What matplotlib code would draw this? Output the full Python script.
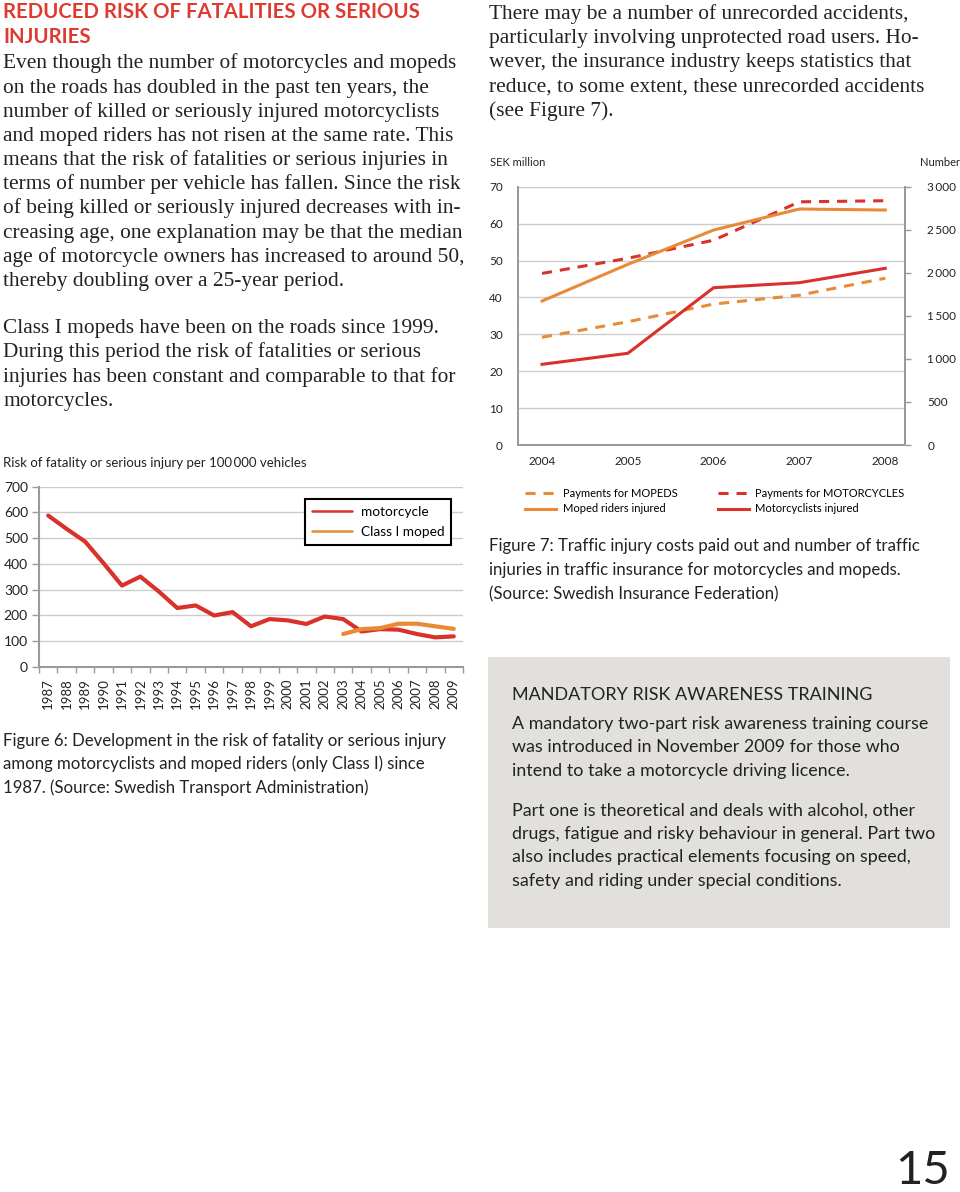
import matplotlib
matplotlib.use("Agg")
import matplotlib.pyplot as plt

W, H = 960, 1192
RED = "#d8322b"
ORANGE = "#e88a36"
TITLE_RED = "#e0392f"
GRID = "#cccccc"
SPINE = "#9a9a9a"
TXT = "#222222"
SANS = "Lato"
SERIF = "Liberation Serif"

# Figure 6 data
years6 = [str(y) for y in range(1987, 2010)]
motorcycle = [588, 536, 487, 403, 316, 351, 293, 229, 239, 200, 213, 158,
              186, 181, 167, 196, 186, 138, 147, 145, 128, 115, 119]
moped_years = years6[16:]
moped = [128, 147, 151, 168, 168, 158, 148]
yticks6 = [0, 100, 200, 300, 400, 500, 600, 700]

# Figure 7 data
years7 = [2004, 2005, 2006, 2007, 2008]
pay_mc = [46.5, 50.6, 55.5, 65.9, 66.2]
pay_moped = [29.2, 33.4, 38.2, 40.6, 45.2]
inj_moped = [1672, 2098, 2497, 2741, 2729]
inj_mc = [937, 1065, 1827, 1885, 2052]
yticks7_left = [0, 10, 20, 30, 40, 50, 60, 70]
yticks7_right = [0, 500, 1000, 1500, 2000, 2500, 3000]
yticks7_right_lbl = ["0", "500", "1\u2009000", "1\u2009500", "2\u2009000", "2\u2009500", "3\u2009000"]

heading = ["REDUCED RISK OF FATALITIES OR SERIOUS", "INJURIES"]
body_left = [
    "Even though the number of motorcycles and mopeds",
    "on the roads has doubled in the past ten years, the",
    "number of killed or seriously injured motorcyclists",
    "and moped riders has not risen at the same rate. This",
    "means that the risk of fatalities or serious injuries in",
    "terms of number per vehicle has fallen. Since the risk",
    "of being killed or seriously injured decreases with in-",
    "creasing age, one explanation may be that the median",
    "age of motorcycle owners has increased to around 50,",
    "thereby doubling over a 25-year period.",
]
body_left2 = [
    "Class I mopeds have been on the roads since 1999.",
    "During this period the risk of fatalities or serious",
    "injuries has been constant and comparable to that for",
    "motorcycles.",
]
body_right = [
    "There may be a number of unrecorded accidents,",
    "particularly involving unprotected road users. Ho-",
    "wever, the insurance industry keeps statistics that",
    "reduce, to some extent, these unrecorded accidents",
    "(see Figure 7).",
]
cap6 = [
    "Figure 6: Development in the risk of fatality or serious injury",
    "among motorcyclists and moped riders (only Class I) since",
    "1987. (Source: Swedish Transport Administration)",
]
cap7 = [
    "Figure 7: Traffic injury costs paid out and number of traffic",
    "injuries in traffic insurance for motorcycles and mopeds.",
    "(Source: Swedish Insurance Federation)",
]
box_head = "MANDATORY RISK AWARENESS TRAINING"
box_p1 = [
    "A mandatory two-part risk awareness training course",
    "was introduced in November 2009 for those who",
    "intend to take a motorcycle driving licence.",
]
box_p2 = [
    "Part one is theoretical and deals with alcohol, other",
    "drugs, fatigue and risky behaviour in general. Part two",
    "also includes practical elements focusing on speed,",
    "safety and riding under special conditions.",
]

fig = plt.figure(figsize=(W / 100, H / 100), dpi=100)


def fx(x):
    return x / W


def fy(y):
    return 1 - y / H


def lines(txt, x, y0, step, **kw):
    for i, t in enumerate(txt):
        fig.text(fx(x), fy(y0 + i * step), t, va="baseline", ha="left", **kw)


def axes_px(x0, y0, x1, y1):
    return fig.add_axes([fx(x0), fy(y1), (x1 - x0) / W, (y1 - y0) / H])


# ---- text blocks
lines(heading, 3, 18.5, 24.2, family=SANS, fontweight="bold", fontsize=14.7, color=TITLE_RED)
lines(body_left, 3, 68.3, 24.2, family=SERIF, fontsize=15.4, color=TXT)
lines(body_left2, 3, 333.3, 24.2, family=SERIF, fontsize=15.4, color=TXT)
lines(body_right, 489, 19.3, 24.1, family=SERIF, fontsize=15.4, color=TXT)
lines(cap6, 3, 746, 23.5, family=SANS, fontsize=12.1, color=TXT)
lines(cap7, 489, 551, 24, family=SANS, fontsize=12.1, color=TXT)

# grey box
fig.patches.append(plt.Rectangle((fx(488), fy(928)), (950 - 488) / W, (928 - 657) / H,
                                 transform=fig.transFigure, facecolor="#e2e0dd",
                                 edgecolor="none", zorder=0))
fig.text(fx(512), fy(700), box_head, family=SANS, fontsize=13, color=TXT, va="baseline")
lines(box_p1, 512, 729.3, 23.2, family=SANS, fontsize=12.9, color=TXT)
lines(box_p2, 512, 816, 23.2, family=SANS, fontsize=12.9, color=TXT)

fig.text(fx(950), fy(1150), "15", family=SANS, fontsize=34,
         color=TXT, ha="right", va="top")

# ---- Figure 6 chart
ax1 = axes_px(39, 486.7, 463, 667)
x6 = list(range(len(years6)))
ax1.plot(x6, motorcycle, color=RED, lw=3, solid_capstyle="round", label="motorcycle", zorder=3)
ax1.plot(x6[16:], moped, color=ORANGE, lw=3, solid_capstyle="round", label="Class I moped", zorder=3)
ax1.set_xlim(-0.5, len(years6) - 0.5)
ax1.set_ylim(0, 700)
ax1.set_yticks(yticks6)
ax1.set_yticklabels([str(v) for v in yticks6], family=SANS, fontsize=10, color=TXT)
ax1.set_xticks(x6)
ax1.set_xticklabels(years6, rotation=90, family=SANS, fontsize=9.5, color=TXT)
ax1.tick_params(axis="x", length=0, pad=8)
ax1.set_xticks([i - 0.5 for i in range(len(years6) + 1)], minor=True)
ax1.tick_params(axis="x", which="minor", length=4, color=SPINE, width=1)
ax1.tick_params(axis="y", length=5, color=SPINE, width=1, pad=3)
ax1.grid(axis="y", color=GRID, lw=1)
ax1.set_axisbelow(True)
for s in ["top", "right"]:
    ax1.spines[s].set_visible(False)
for s in ["left", "bottom"]:
    ax1.spines[s].set_color(SPINE)
    ax1.spines[s].set_linewidth(1.5)
leg1 = ax1.legend(loc="upper left", bbox_to_anchor=(fx(298), fy(492)),
                  bbox_transform=fig.transFigure, fancybox=False, framealpha=1,
                  edgecolor="black", prop={"family": SANS, "size": 9.8},
                  handlelength=3.0, borderpad=0.5, labelspacing=0.6, handletextpad=0.6)
leg1.get_frame().set_linewidth(1.5)
for h in leg1.get_lines():
    h.set_linewidth(1.8)
fig.text(fx(3), fy(466.7), "Risk of fatality or serious injury per 100\u2009000 vehicles",
         family=SANS, fontsize=9.5, color=TXT, va="baseline")

# ---- Figure 7 chart
ax2 = axes_px(518, 186.7, 905, 445)
ax3 = ax2.twinx()
l1, = ax2.plot(years7, pay_moped, color=ORANGE, lw=2.2, dashes=(3.3, 2.6),
               label="Payments for MOPEDS")
l2, = ax2.plot(years7, pay_mc, color=RED, lw=2.2, dashes=(3.3, 2.6),
               label="Payments for MOTORCYCLES")
l3, = ax3.plot(years7, inj_moped, color=ORANGE, lw=2.2, label="Moped riders injured")
l4, = ax3.plot(years7, inj_mc, color=RED, lw=2.2, label="Motorcyclists injured")
ax2.set_xlim(2003.72, 2008.23)
ax2.set_ylim(0, 70)
ax3.set_ylim(0, 3000)
ax2.set_xticks(years7)
ax2.set_xticklabels([str(y) for y in years7], family=SANS, fontsize=8.5, color=TXT)
ax2.tick_params(axis="x", length=0, pad=8)
ax2.set_yticks(yticks7_left)
ax2.set_yticklabels([str(v) for v in yticks7_left], family=SANS, fontsize=8.5, color=TXT)
ax2.tick_params(axis="y", length=0, pad=11)
ax3.set_yticks(yticks7_right)
ax3.set_yticklabels(yticks7_right_lbl, family=SANS, fontsize=8.5, color=TXT)
ax3.tick_params(axis="y", length=4, color=SPINE, width=1, pad=12)
ax2.grid(axis="y", color=GRID, lw=1)
ax2.set_axisbelow(True)
for a in (ax2, ax3):
    a.spines["top"].set_visible(False)
    for s in ["left", "right", "bottom"]:
        a.spines[s].set_color(SPINE)
        a.spines[s].set_linewidth(1.3)
fig.text(fx(490), fy(166), "SEK million", family=SANS, fontsize=8, color=TXT, va="baseline")
fig.text(fx(960), fy(166), "Number", family=SANS, fontsize=8, color=TXT, va="baseline", ha="right")
leg2 = ax2.legend(handles=[l1, l3, l2, l4], ncol=2, loc="upper left",
                  bbox_to_anchor=(fx(515), fy(478)), bbox_transform=fig.transFigure,
                  frameon=False, prop={"family": SANS, "size": 8},
                  handlelength=2.8, columnspacing=3.6, labelspacing=0.4, handletextpad=0.6)

fig.savefig("out.png", dpi=100)
